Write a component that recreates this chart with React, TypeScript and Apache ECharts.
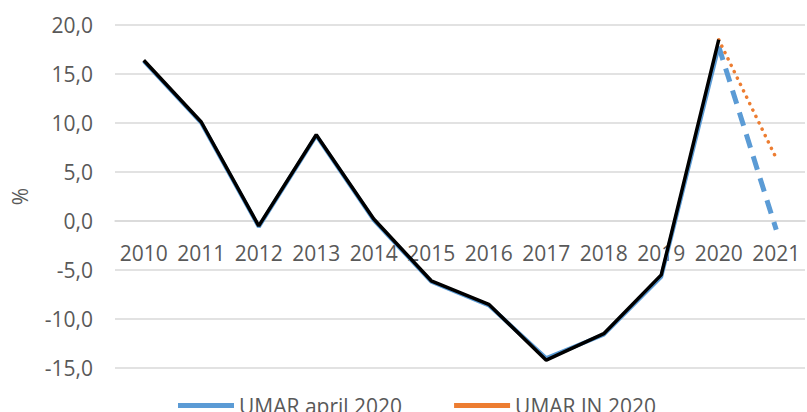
import React, { useEffect, useRef } from "react";
import * as echarts from "echarts";

const years = ["2010", "2011", "2012", "2013", "2014", "2015", "2016", "2017", "2018", "2019", "2020", "2021"];
const actual = [16.4, 10.1, -0.5, 8.8, 0.2, -6.1, -8.5, -14.2, -11.5, -5.5, 18.5, null];
const umarApril = [16.3, 10.0, -0.6, 8.7, 0.1, -6.2, -8.6, -14.0, -11.6, -5.7, 17.8, null];
const umarAprilForecast = [null, null, null, null, null, null, null, null, null, null, 17.8, -0.9];
const umarJnForecast = [null, null, null, null, null, null, null, null, null, null, 18.5, 6.4];
const yTicks = { min: -15, max: 20, interval: 5 };

const FONT = "Open Sans";
const TEXT = "#595959";
const GRID = { left: 115, right: 2, top: 25, bottom: 44 };
const H = 412;

export default function App() {
  const ref = useRef<HTMLDivElement>(null);
  useEffect(() => {
    const chart = echarts.init(ref.current!, null, { renderer: "svg" });
    const plotH = H - GRID.top - GRID.bottom;
    // place the category axis at the value 0 of the y axis
    const zeroOffset = -((0 - yTicks.min) / (yTicks.max - yTicks.min)) * plotH;
    chart.setOption({
      animation: false,
      grid: { ...GRID, containLabel: false, outerBoundsMode: "none" },
      legend: {
        top: 390,
        left: 173,
        itemWidth: 56,
        itemHeight: 5,
        itemGap: 52,
        icon: "rect",
        textStyle: { fontFamily: FONT, fontSize: 21, color: TEXT },
        data: [
          { name: "UMAR april 2020", itemStyle: { color: "#5B9BD5" } },
          { name: "UMAR JN 2020", itemStyle: { color: "#ED7D31" } },
        ],
      },
      xAxis: {
        type: "category",
        data: years,
        boundaryGap: true,
        position: "bottom",
        offset: zeroOffset,
        axisLine: { show: true, onZero: false, lineStyle: { color: "#D9D9D9", width: 1.5 } },
        axisTick: { show: false },
        axisLabel: { fontFamily: FONT, fontSize: 21, color: TEXT, margin: 21, interval: 0 },
      },
      yAxis: {
        type: "value",
        min: yTicks.min,
        max: yTicks.max,
        interval: yTicks.interval,
        name: "%",
        nameLocation: "middle",
        nameRotate: 90,
        nameGap: 85,
        nameTextStyle: { fontFamily: FONT, fontSize: 21, color: TEXT },
        axisLine: { show: false },
        axisTick: { show: false },
        splitLine: { lineStyle: { color: "#D9D9D9", width: 1.5 } },
        axisLabel: {
          fontFamily: FONT,
          fontSize: 21,
          color: TEXT,
          margin: 22,
          formatter: (v: number) => v.toFixed(1).replace(".", ","),
        },
      },
      series: [
        {
          name: "UMAR april 2020",
          type: "line",
          data: umarApril,
          symbol: "none",
          lineStyle: { color: "#5B9BD5", width: 4 },
          itemStyle: { color: "#5B9BD5" },
          z: 1,
        },
        {
          name: "UMAR april 2020 forecast",
          type: "line",
          data: umarAprilForecast,
          symbol: "none",
          lineStyle: { color: "#5B9BD5", width: 5, type: [14, 9] },
          z: 2,
        },
        {
          name: "UMAR JN 2020",
          type: "line",
          data: umarJnForecast,
          symbol: "none",
          lineStyle: { color: "#ED7D31", width: 3.5, type: [0.1, 7], cap: "round" },
          itemStyle: { color: "#ED7D31" },
          z: 3,
        },
        {
          name: "Realizacija",
          type: "line",
          data: actual,
          symbol: "none",
          lineStyle: { color: "#000000", width: 3.5 },
          z: 4,
        },
      ],
    });
    return () => chart.dispose();
  }, []);
  return <div ref={ref} style={{ width: 807, height: 412, position: "absolute", left: 0, top: 0 }} />;
}
